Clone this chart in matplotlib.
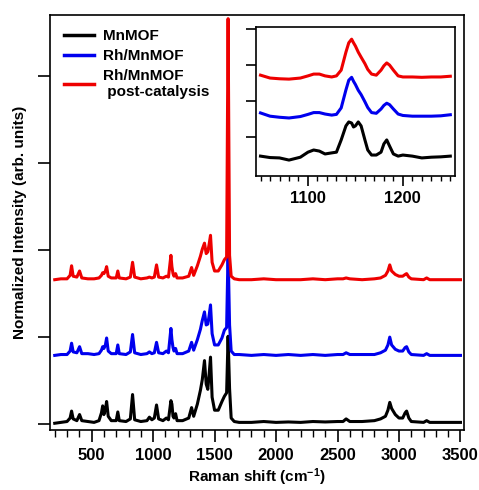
import matplotlib
matplotlib.use('Agg')
import matplotlib.pyplot as plt
from matplotlib.ticker import MultipleLocator, NullFormatter
import numpy as np

plt.rcParams['font.family'] = ['Liberation Sans', 'DejaVu Sans']
plt.rcParams['font.weight'] = 'bold'
plt.rcParams['mathtext.fontset'] = 'custom'
plt.rcParams['mathtext.rm'] = 'Liberation Sans:bold'
plt.rcParams['mathtext.bf'] = 'Liberation Sans:bold'
plt.rcParams['mathtext.default'] = 'bf'

# main spectra (Raman shift, cm-1)
shift = [200, 250, 300, 325, 337, 350, 380, 402,
         420, 470, 520, 560, 580, 590, 600, 612,
         622, 635, 660, 700, 713, 725, 780, 815,
         833, 850, 900, 950, 970, 990, 1010, 1028,
         1045, 1080, 1108, 1125, 1145, 1153, 1162, 1170,
         1183, 1195, 1240, 1290, 1313, 1330, 1360, 1385,
         1400, 1418, 1432, 1445, 1455, 1467, 1480, 1500,
         1530, 1560, 1580, 1598, 1610, 1622, 1635, 1660,
         1700, 1800, 1900, 2000, 2100, 2200, 2300, 2400,
         2500, 2545, 2570, 2600, 2700, 2800, 2850, 2890,
         2910, 2925, 2940, 2970, 3000, 3030, 3050, 3062,
         3080, 3100, 3200, 3225, 3250, 3350, 3450, 3500]

mnmof = [0.00, 0.01, 0.02, 0.06, 0.14, 0.05, 0.03, 0.10,
         0.03, 0.02, 0.01, 0.03, 0.12, 0.20, 0.10, 0.16,
         0.25, 0.08, 0.03, 0.03, 0.13, 0.03, 0.02, 0.05,
         0.33, 0.04, 0.02, 0.03, 0.07, 0.04, 0.06, 0.21,
         0.05, 0.03, 0.06, 0.04, 0.26, 0.22, 0.08, 0.06,
         0.11, 0.03, 0.03, 0.06, 0.18, 0.08, 0.22, 0.38,
         0.50, 0.72, 0.45, 0.39, 0.55, 0.76, 0.30, 0.15,
         0.15, 0.25, 0.31, 0.35, 1.00, 0.40, 0.06, 0.02,
         0.01, 0.01, 0.02, 0.01, 0.015, 0.01, 0.02, 0.015,
         0.02, 0.02, 0.05, 0.02, 0.02, 0.03, 0.05, 0.08,
         0.15, 0.24, 0.17, 0.10, 0.06, 0.06, 0.12, 0.14,
         0.06, 0.02, 0.01, 0.03, 0.01, 0.01, 0.01, 0.01]

rh_mnmof = [0.00, 0.01, 0.01, 0.05, 0.14, 0.04, 0.03, 0.10,
            0.02, 0.02, 0.01, 0.02, 0.06, 0.10, 0.08, 0.12,
            0.20, 0.05, 0.02, 0.02, 0.12, 0.02, 0.01, 0.04,
            0.24, 0.03, 0.01, 0.02, 0.04, 0.02, 0.03, 0.15,
            0.03, 0.02, 0.05, 0.03, 0.31, 0.18, 0.09, 0.05,
            0.08, 0.02, 0.02, 0.05, 0.15, 0.06, 0.18, 0.30,
            0.40, 0.50, 0.35, 0.36, 0.45, 0.58, 0.25, 0.12,
            0.12, 0.20, 0.29, 0.32, 1.20, 0.35, 0.05, 0.01,
            0.01, 0.00, 0.01, 0.00, 0.01, 0.00, 0.01, 0.00,
            0.01, 0.01, 0.03, 0.01, 0.01, 0.01, 0.03, 0.06,
            0.12, 0.21, 0.12, 0.07, 0.05, 0.05, 0.09, 0.10,
            0.04, 0.01, 0.00, 0.02, 0.00, 0.00, 0.00, 0.00]

rh_post = [0.00, 0.01, 0.01, 0.05, 0.16, 0.04, 0.03, 0.10,
           0.02, 0.01, 0.01, 0.02, 0.05, 0.08, 0.07, 0.10,
           0.15, 0.04, 0.02, 0.02, 0.10, 0.02, 0.01, 0.03,
           0.20, 0.03, 0.01, 0.02, 0.03, 0.02, 0.03, 0.17,
           0.03, 0.02, 0.04, 0.03, 0.28, 0.15, 0.07, 0.04,
           0.07, 0.02, 0.02, 0.04, 0.14, 0.05, 0.16, 0.27,
           0.35, 0.42, 0.30, 0.32, 0.40, 0.51, 0.20, 0.10,
           0.10, 0.17, 0.23, 0.26, 3.00, 0.28, 0.04, 0.01,
           0.00, 0.00, 0.01, 0.00, 0.00, 0.00, 0.01, 0.00,
           0.01, 0.01, 0.02, 0.01, 0.00, 0.01, 0.02, 0.05,
           0.10, 0.17, 0.10, 0.06, 0.04, 0.04, 0.06, 0.07,
           0.03, 0.01, 0.00, 0.02, 0.00, 0.00, 0.00, 0.00]

offsets = [0.01, 0.79, 1.66]

# inset (zoom on 1050-1250 cm-1)
shift_in = [1050, 1060, 1070, 1080, 1092, 1100, 1106, 1112, 1118, 1125,
            1130, 1135, 1140, 1143, 1146, 1148, 1150, 1153, 1156, 1160,
            1163, 1167, 1172, 1177, 1180, 1183, 1186, 1190, 1195, 1200,
            1210, 1220, 1230, 1240, 1250]
mnmof_in = [-0.53, -0.57, -0.58, -0.64, -0.56, -0.42, -0.36, -0.39, -0.47, -0.44,
            -0.42, -0.08, 0.31, 0.42, 0.39, 0.28, 0.31, 0.42, 0.31, -0.08,
            -0.36, -0.50, -0.50, -0.42, -0.19, -0.08, -0.25, -0.47, -0.53, -0.50,
            -0.53, -0.58, -0.56, -0.55, -0.53]
rh_mnmof_in = [0.67, 0.58, 0.55, 0.53, 0.57, 0.63, 0.68, 0.68, 0.64, 0.61,
               0.63, 0.81, 1.31, 1.58, 1.66, 1.55, 1.46, 1.30, 1.18, 0.98,
               0.82, 0.68, 0.66, 0.78, 0.88, 0.94, 0.90, 0.78, 0.64, 0.60,
               0.58, 0.58, 0.58, 0.59, 0.62]
rh_post_in = [1.72, 1.64, 1.62, 1.61, 1.64, 1.70, 1.75, 1.75, 1.70, 1.67,
              1.70, 1.86, 2.36, 2.62, 2.72, 2.62, 2.53, 2.36, 2.22, 2.04,
              1.88, 1.75, 1.72, 1.86, 1.98, 2.06, 2.00, 1.86, 1.70, 1.67,
              1.67, 1.66, 1.67, 1.67, 1.69]

labels = ['MnMOF', 'Rh/MnMOF', 'Rh/MnMOF\n post-catalysis']
colors = ['black', '#0000ee', '#ee0000']

fig = plt.figure(figsize=(4.79, 4.90), dpi=100)
ax = fig.add_axes([0.104, 0.122, 0.865, 0.847])

for y, off, c, lab in zip([mnmof, rh_mnmof, rh_post], offsets, colors, labels):
    ax.plot(shift, np.array(y) + off, color=c, lw=2.2, label=lab)

ax.set_xlim(160, 3530)
ax.set_ylim(-0.07, 4.70)
ax.xaxis.set_major_locator(MultipleLocator(500))
ax.xaxis.set_minor_locator(MultipleLocator(100))
ax.yaxis.set_major_locator(MultipleLocator(1))
ax.yaxis.set_major_formatter(NullFormatter())
ax.tick_params(axis='both', which='major', direction='out', length=8.5, width=1.2,
               labelsize=12, pad=4)
ax.tick_params(axis='x', which='minor', direction='out', length=5, width=1.0)
for s in ax.spines.values():
    s.set_linewidth(1.2)
for t in ax.get_xticklabels():
    t.set_fontweight('bold')
ax.set_xlabel(r'Raman shift (cm$^{-1}$)', fontsize=11, fontweight='bold', labelpad=3)
ax.set_ylabel('Normalized Intensity (arb. units)', fontsize=11, fontweight='bold', labelpad=4)

leg = ax.legend(loc='upper left', bbox_to_anchor=(0.0, 1.0), frameon=False,
                prop={'weight': 'bold', 'size': 11}, handlelength=2.0,
                handletextpad=0.6, labelspacing=0.4, borderaxespad=0.5)
for h in leg.get_lines():
    h.set_linewidth(2.5)

ins = fig.add_axes([0.534, 0.641, 0.416, 0.304])
for y, c in zip([mnmof_in, rh_mnmof_in, rh_post_in], colors):
    ins.plot(shift_in, y, color=c, lw=2.2)
ins.set_xlim(1045, 1255)
ins.set_ylim(-1.08, 3.06)
ins.xaxis.set_major_locator(MultipleLocator(100))
ins.xaxis.set_minor_locator(MultipleLocator(10))
ins.set_yticks([0, 1, 2, 3])
ins.yaxis.set_major_formatter(NullFormatter())
ins.tick_params(axis='both', which='major', direction='out', length=7, width=1.2,
                labelsize=12, pad=4)
ins.tick_params(axis='x', which='minor', direction='out', length=3.5, width=1.0)
for s in ins.spines.values():
    s.set_linewidth(1.2)
for t in ins.get_xticklabels():
    t.set_fontweight('bold')

fig.savefig('out.png', dpi=100)
